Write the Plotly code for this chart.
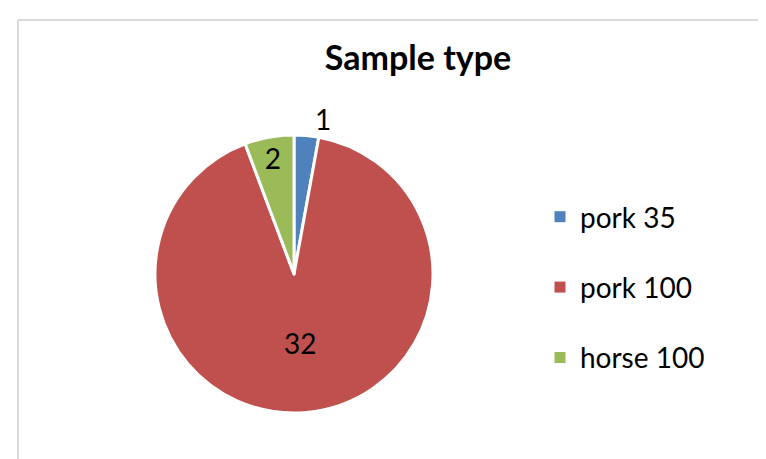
import plotly.graph_objects as go

categories = ["pork 35", "pork 100", "horse 100"]
values = [1, 32, 2]
colors = ["#4F81BD", "#C0504D", "#9BBB59"]
text_positions = ["outside", "inside", "inside"]

W, H = 766, 459
FONT = "Lato"

fig = go.Figure()
fig.add_trace(go.Pie(
    labels=categories, values=values, sort=False, direction="clockwise", rotation=0,
    marker=dict(colors=colors, line=dict(color="white", width=3)),
    textinfo="value", textposition=text_positions,
    insidetextorientation="horizontal",
    textfont=dict(family=FONT, size=28, color="black"),
    showlegend=False,
    domain=dict(x=[147 / W, 425 / W], y=[(H - 405) / H, (H - 127) / H]),
    hoverinfo="label+value",
))

for cat, col in zip(categories, colors):
    fig.add_trace(go.Scatter(
        x=[None], y=[None], mode="markers", name=cat, legendgroup=cat,
        marker=dict(symbol="square", size=11, color=col),
    ))

fig.update_layout(
    width=W, height=H, margin=dict(l=0, r=0, t=0, b=0),
    paper_bgcolor="white", plot_bgcolor="white",
    xaxis=dict(visible=False), yaxis=dict(visible=False),
    title=dict(text="<b>Sample type</b>", x=410 / W, xanchor="center",
               y=1 - 50 / H, yanchor="middle",
               font=dict(family=FONT, size=34, color="black")),
    legend=dict(x=532 / W, xanchor="left", y=1 - 184 / H, yanchor="top",
                font=dict(family=FONT, size=28, color="black"),
                tracegroupgap=31, itemwidth=30, bgcolor="rgba(0,0,0,0)"),
    font=dict(family=FONT),
    shapes=[
        dict(type="line", xref="paper", yref="paper", x0=10 / W, x1=1.0,
             y0=1 - 12 / H, y1=1 - 12 / H, line=dict(color="#D9D9D9", width=2)),
        dict(type="line", xref="paper", yref="paper", x0=10 / W, x1=10 / W,
             y0=0, y1=1 - 12 / H, line=dict(color="#D9D9D9", width=2)),
    ],
)

fig.write_html("out.html")
